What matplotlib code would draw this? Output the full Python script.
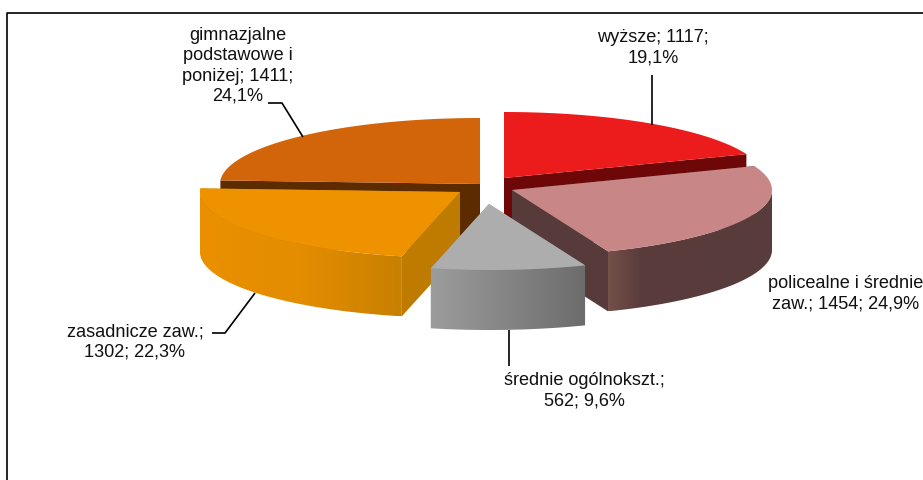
import numpy as np
import matplotlib
matplotlib.use("Agg")
import matplotlib.pyplot as plt
from matplotlib.colors import LinearSegmentedColormap
from matplotlib.patches import Polygon

plt.rcParams['font.family'] = ['Liberation Sans', 'DejaVu Sans']

# Data
categories = ["wyższe", "policealne i średnie zaw.", "średnie ogólnokszt.",
              "zasadnicze zaw.", "gimnazjalne podstawowe i poniżej"]
values = [1117, 1454, 562, 1302, 1411]
label_texts = ["wyższe; 1117;\n19,1%",
               "policealne i średnie\nzaw.; 1454; 24,9%",
               "średnie ogólnokszt.;\n562; 9,6%",
               "zasadnicze zaw.;\n1302; 22,3%",
               "gimnazjalne\npodstawowe i\nponiżej; 1411;\n24,1%"]

# Layout, in pixels of the 923x480 canvas
RX, RY, DEPTH = 260, 66, 60
apex = [(504, 178), (512, 190), (489, 204), (460, 192), (480, 184)]
top_colors = ["#ED1C1C", "#C88686", "#ADADAD", "#EE9200", "#D2650A"]
# wall gradients, left to right
wall_colors = [["#6E0808", "#6E0808"],
               [(0, "#735048"), (0.2, "#5A3C3C"), (1, "#583B3B")],
               ["#9C9C9C", "#6C6C6C"],
               [(0, "#EA9000"), (0.5, "#E48D00"), (1, "#C88000")],
               ["#5C2C00", "#5C2C00"]]
cut_colors = ["#6E0808", "#573A3A", "#8A8A8A", "#BF7A00", "#5C2C00"]
label_pos = [(653, 48), (846, 294), (584, 391), (135, 342), (238, 66)]
leaders = [[(652, 75), (652, 125)],
           [(509, 330), (509, 366)],
           [(212, 333), (225, 333), (255, 293)],
           [(268, 103), (282, 103), (303, 137)]]

fig = plt.figure(figsize=(9.23, 4.80), dpi=100)
ax = fig.add_axes([0, 0, 1, 1])
ax.axis("off")

# frame runs off the canvas on the right and at the bottom
ax.plot([7, 7, 930], [490, 12.5, 12.5], color="black", lw=1.2)

shares = np.array(values) / sum(values)
ends = np.cumsum(shares) * 360
starts = ends - shares * 360
gradient = np.linspace(0, 1, 256).reshape(1, -1)


def rim(i, deg):
    a = np.radians(deg)
    return apex[i][0] + RX * np.sin(a), apex[i][1] - RY * np.cos(a)


def draw_slice(i, z):
    cx, cy = apex[i]

    # radial cut faces
    for d in (starts[i], ends[i]):
        x, y = rim(i, d)
        ax.add_patch(Polygon([(cx, cy), (x, y), (x, y + DEPTH), (cx, cy + DEPTH)],
                             fc=cut_colors[i], ec="none", zorder=z))

    # outer wall, only the part of the rim that faces the viewer
    lo, hi = max(starts[i], 90), min(ends[i], 270)
    if hi > lo:
        xs, ys = rim(i, np.linspace(lo, hi, 120))
        wall = Polygon(list(zip(xs, ys)) + list(zip(xs[::-1], ys[::-1] + DEPTH)),
                       transform=ax.transData, fc="none", ec="none")
        ax.add_patch(wall)
        cmap = LinearSegmentedColormap.from_list("wall%d" % i, wall_colors[i])
        im = ax.imshow(gradient, cmap=cmap, aspect="auto", zorder=z + 0.1,
                       extent=(xs.min(), xs.max(), ys.max() + DEPTH, ys.min()))
        im.set_clip_path(wall)

    # top face
    xs, ys = rim(i, np.linspace(starts[i], ends[i], 120))
    pts = [(cx, cy)] + list(zip(xs, ys))
    ax.add_patch(Polygon(pts, fc=top_colors[i], ec="none", zorder=z + 0.2))


# back slices first, the front ones cover them
draw_order = [4, 0, 1, 3, 2]
for z, i in enumerate(draw_order):
    draw_slice(i, z + 1)

for pts in leaders:
    xs, ys = zip(*pts)
    ax.plot(xs, ys, color="black", lw=1.2, zorder=10, solid_capstyle="butt")

for txt, (x, y) in zip(label_texts, label_pos):
    ax.text(x, y, txt, ha="center", va="center", fontsize=13.1, color="#111111",
            linespacing=1.24, zorder=11)

ax.set_xlim(0, 923)
ax.set_ylim(480, 0)
fig.savefig("out.png", dpi=100)
plt.close(fig)
